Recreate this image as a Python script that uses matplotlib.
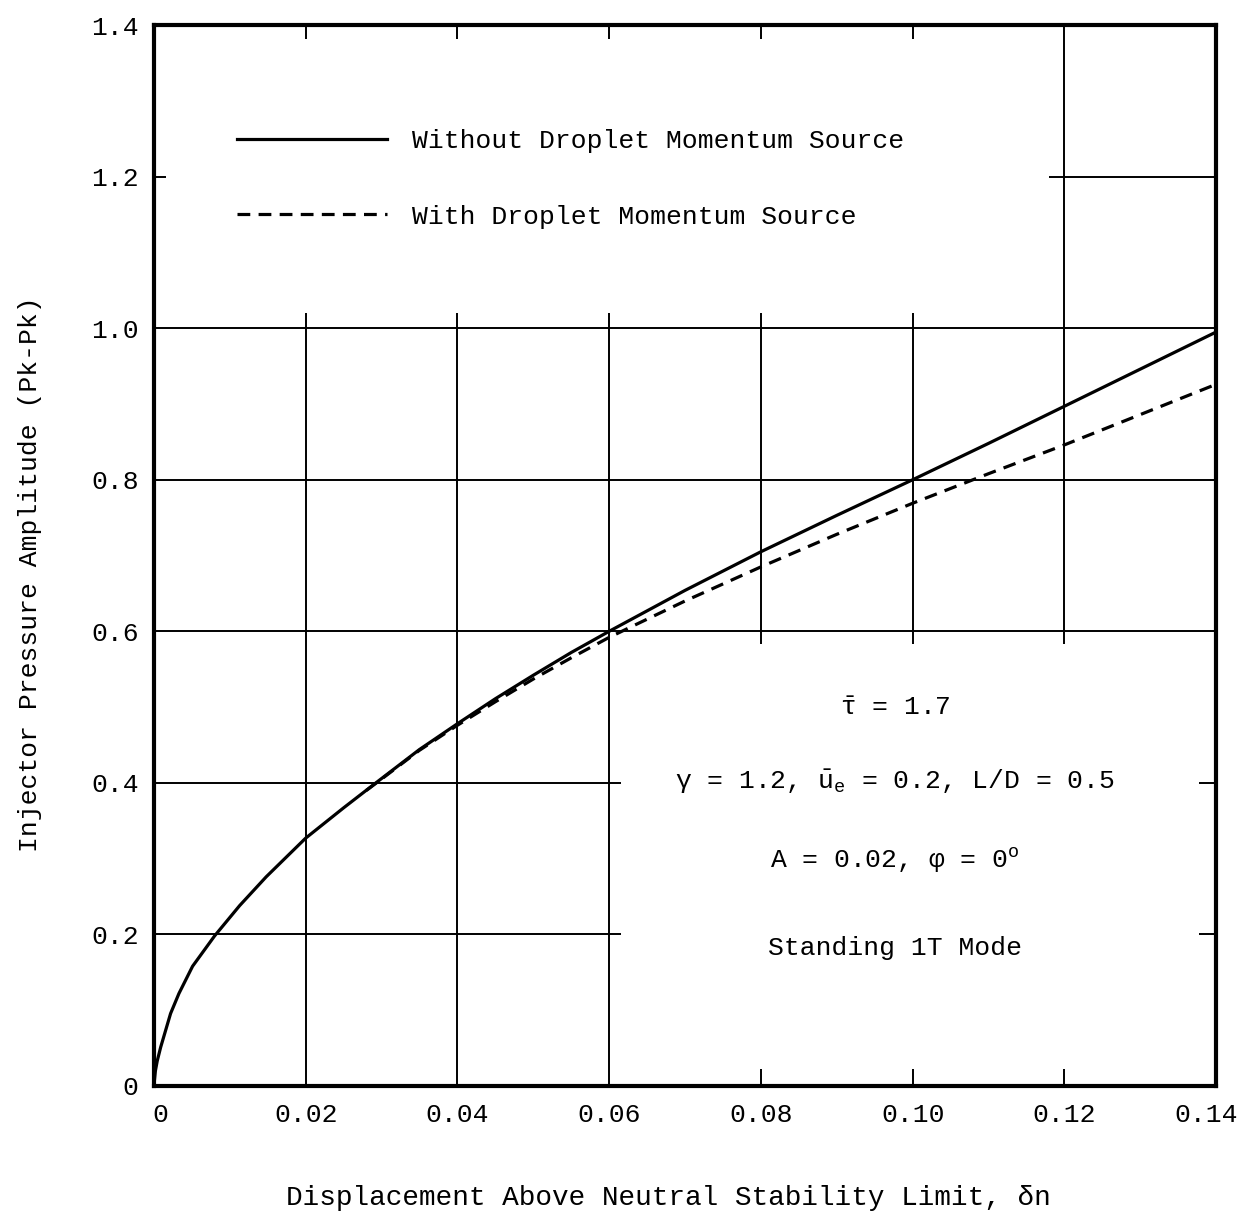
import numpy as np
from matplotlib import pyplot as plt
from matplotlib.transforms import ScaledTranslation

x_without = [0, 0.0002, 0.00044, 0.00089, 0.0022, 0.0033, 0.0051, 0.008, 0.0113, 0.0148,
             0.02, 0.025, 0.029, 0.035, 0.04, 0.045, 0.05, 0.055, 0.06, 0.07, 0.08, 0.09,
             0.10, 0.11, 0.12, 0.13, 0.14]
y_without = [0, 0.02, 0.033, 0.051, 0.0956, 0.122, 0.158, 0.198, 0.238, 0.276,
             0.327, 0.367, 0.398, 0.444, 0.478, 0.511, 0.542, 0.572, 0.6, 0.654, 0.705, 0.753,
             0.80, 0.848, 0.897, 0.946, 0.995]

x_with = [0.028, 0.03, 0.035, 0.04, 0.045, 0.05, 0.055, 0.06, 0.07, 0.08, 0.09,
          0.10, 0.11, 0.12, 0.13, 0.14]
y_with = [0.39, 0.405, 0.443, 0.476, 0.507, 0.537, 0.565, 0.592, 0.64, 0.685, 0.728,
          0.769, 0.808, 0.846, 0.886, 0.926]

xticks = [0, 0.02, 0.04, 0.06, 0.08, 0.10, 0.12, 0.14]
xticklabels = ['0', '0.02', '0.04', '0.06', '0.08', '0.10', '0.12', '0.14']
yticks = [0, 0.2, 0.4, 0.6, 0.8, 1.0, 1.2, 1.4]
yticklabels = ['0', '0.2', '0.4', '0.6', '0.8', '1.0', '1.2', '1.4']

plt.rcParams['font.family'] = ['Liberation Mono', 'DejaVu Sans Mono']
plt.rcParams['mathtext.fontset'] = 'custom'
plt.rcParams['mathtext.rm'] = 'Liberation Mono'
plt.rcParams['mathtext.it'] = 'Liberation Mono'
plt.rcParams['mathtext.bf'] = 'Liberation Mono'

fs = 19
fig = plt.figure(figsize=(12.41, 12.18), dpi=100)
ax = fig.add_axes([0.124, 0.1084, 0.856, 0.871])

ax.set_xlim(0, 0.14)
ax.set_ylim(0, 1.4)
for s in ax.spines.values():
    s.set_linewidth(3)

ax.set_xticks(xticks)
ax.set_xticklabels(xticklabels)
ax.set_yticks(yticks)
ax.set_yticklabels(yticklabels)
ax.tick_params(length=0, labelsize=fs)
ax.tick_params(axis='x', pad=12)
ax.tick_params(axis='y', pad=11)

# nudge the end labels like in the scan
xl = ax.get_xticklabels()
xl[0].set_transform(xl[0].get_transform() + ScaledTranslation(0.06, 0, fig.dpi_scale_trans))
xl[-1].set_transform(xl[-1].get_transform() + ScaledTranslation(-0.1, 0, fig.dpi_scale_trans))

# broken grid, as in the original drawing
gk = dict(color='black', lw=1.4, zorder=1)
ax.hlines([0.6, 0.8, 1.0], 0, 0.14, **gk)
ax.hlines([0.2, 0.4], 0, 0.0616, **gk)
ax.hlines([0.2, 0.4], 0.1378, 0.14, **gk)
ax.hlines(1.2, 0, 0.0016, **gk)
ax.hlines(1.2, 0.118, 0.14, **gk)
ax.vlines([0.02, 0.04, 0.06], 0, 1.02, **gk)
ax.vlines([0.08, 0.10], 0.583, 1.02, **gk)
ax.vlines(0.12, 0.583, 1.4, **gk)
ax.vlines([0.08, 0.10, 0.12], 0, 0.022, **gk)
ax.vlines([0.02, 0.04, 0.06, 0.08, 0.10], 1.381, 1.4, **gk)

ax.plot(x_without, y_without, color='black', lw=2.3, solid_joinstyle='round',
        label='Without Droplet Momentum Source', zorder=3)
ax.plot(x_with, y_with, color='black', lw=2.3, linestyle=(0, (4, 2.6)),
        label='With Droplet Momentum Source', zorder=3)

ax.legend(loc='upper left', bbox_to_anchor=(0.078, 0.902), frameon=False,
          fontsize=fs, handlelength=5.7, handletextpad=0.95, labelspacing=1.95,
          borderpad=0, borderaxespad=0)

tx = 0.0977
ax.text(tx, 0.499, r'$\bar{\tau}$ = 1.7', ha='center', va='center', fontsize=fs)
ax.text(tx, 0.403, r'$\gamma$ = 1.2, $\bar{\mathrm{u}}_{\mathrm{e}}$ = 0.2, L/D = 0.5',
        ha='center', va='center', fontsize=fs)
ax.text(tx, 0.297, r'A = 0.02, $\varphi$ = 0$^{\mathrm{o}}$', ha='center', va='center', fontsize=fs)
ax.text(tx, 0.182, 'Standing 1T Mode', ha='center', va='center', fontsize=fs)

ax.set_xlabel('Displacement Above Neutral Stability Limit, δn', fontsize=20)
ax.set_ylabel('Injector Pressure Amplitude (Pk-Pk)', fontsize=fs)
ax.xaxis.set_label_coords(0.484, -0.093)
ax.yaxis.set_label_coords(-0.105, 0.482)

fig.savefig('out.png', dpi=100)
